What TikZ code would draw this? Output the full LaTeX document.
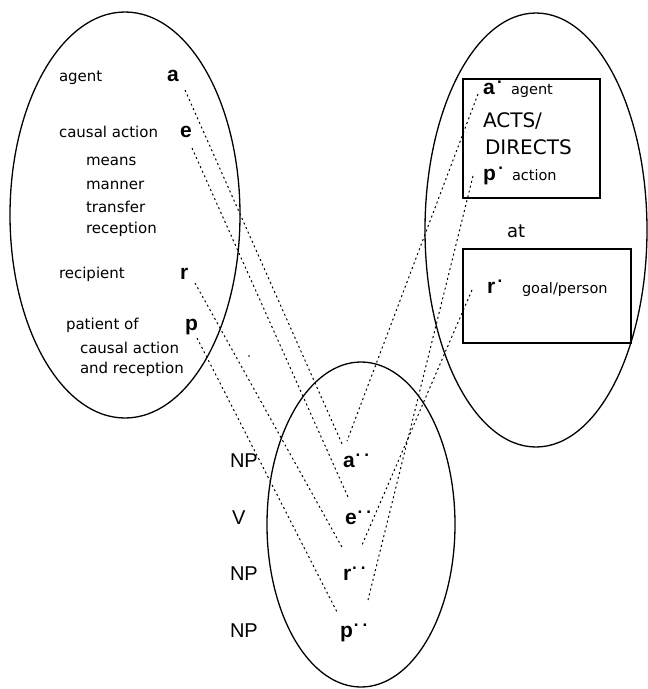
\documentclass[tikz,border=0pt]{standalone}
\usepackage{fontspec}
\setmainfont{DejaVu Sans}
\newfontfamily\labfont{DejaVu Sans}
\newfontfamily\helvfont{Liberation Sans}
\newcommand\onepr{\kern2.5pt\raisebox{11pt}{\fontsize{17}{17}\selectfont.}}
\newcommand\twopr{\kern1pt\raisebox{11pt}{\fontsize{17}{17}\selectfont.\kern4pt.}}
\begin{document}
\begin{tikzpicture}[x=1pt,y=-1pt,
  every node/.style={inner sep=0pt, outer sep=0pt, anchor=base west},
  small/.style={font=\labfont\fontsize{15}{17}\selectfont},
  tiny/.style={font=\labfont\fontsize{14.5}{16}\selectfont},
  big/.style={font=\labfont\fontsize{20}{22}\selectfont},
  mid/.style={font=\labfont\fontsize{18}{20}\selectfont},
  letter/.style={font=\helvfont\bfseries\fontsize{21}{23}\selectfont},
  syn/.style={font=\helvfont\fontsize{20}{22}\selectfont},
  link/.style={line width=1pt, dash pattern=on 2pt off 3pt},
  outline/.style={line width=1.3pt},
  frame/.style={line width=1.5pt}]
\useasboundingbox (0,0) rectangle (648,689);

% ellipses and boxes
\draw[outline] (125,215) ellipse [x radius=115pt, y radius=203pt];
\draw[outline] (536,230) ellipse [x radius=111pt, y radius=217pt];
\draw[outline] (361,524.5) ellipse [x radius=94pt, y radius=162.5pt];
\draw[frame] (463,79) rectangle (600,198);
\draw[frame] (463,249) rectangle (631,343);

% left ellipse texts
\node[small] (tagent) at (59,81) {agent};
\node[letter] (a) at (167,81) {a};
\node[small] (tcausal) at (59,137) {causal action};
\node[letter] (e) at (180,137) {e};
\node[small] (tmeans) at (86,165) {means};
\node[small] (tmanner) at (86,189) {manner};
\node[small] (ttransfer) at (86,212) {transfer};
\node[small] (treception) at (86,233) {reception};
\node[small] (trecipient) at (59,278) {recipient};
\node[letter] (r) at (180,279) {r};
\node[small] (tpatient) at (66,329) {patient of};
\node[letter] (p) at (185,330) {p};
\node[small] (tcausal2) at (80,353) {causal action};
\node[small] (tandrec) at (80,373) {and reception};

% right ellipse texts
\node[letter] (a1) at (483,94) {a\onepr};
\node[tiny] (tagent2) at (511,94) {agent};
\node[big] (tacts) at (483,127) {ACTS/};
\node[big] (tdirects) at (485,154) {DIRECTS};
\node[letter] (p1) at (483,180) {p\onepr};
\node[tiny] (taction) at (512,180) {action};
\node[mid] (tat) at (507,237) {at};
\node[letter] (r1) at (487,293) {r\onepr};
\node[tiny] (tgoal) at (522,293) {goal/person};

% bottom ellipse texts
\node[syn] (np1) at (230,467) {NP};
\node[letter] (a2) at (343,467) {a\twopr};
\node[syn] (v) at (232,524) {V};
\node[letter] (e2) at (345,524) {e\twopr};
\node[syn] (np2) at (230,580) {NP};
\node[letter] (r2) at (343,580) {r\twopr};
\node[syn] (np3) at (230,637) {NP};
\node[letter] (p2) at (340,637) {p\twopr};

% connector end points
\coordinate (aS) at (185,90);   \coordinate (aE) at (343,446);
\coordinate (eS) at (192,148);  \coordinate (eE) at (348,497);
\coordinate (rS) at (195,283);  \coordinate (rE) at (343,549);
\coordinate (pS) at (197,338);  \coordinate (pE) at (338,614);
\coordinate (a1S) at (478,94);  \coordinate (a1E) at (347,441);
\coordinate (p1S) at (473,176); \coordinate (p1E) at (368,600);
\coordinate (r1S) at (472,290); \coordinate (r1E) at (362,545);

\draw[link] (aS) -- (aE);
\draw[link] (eS) -- (eE);
\draw[link] (rS) -- (rE);
\draw[link] (pS) -- (pE);
\draw[link] (a1S) -- (a1E);
\draw[link] (p1S) -- (p1E);
\draw[link] (r1S) -- (r1E);

% stray dot
\fill (249,356) circle [radius=0.8pt];
\end{tikzpicture}
\end{document}
